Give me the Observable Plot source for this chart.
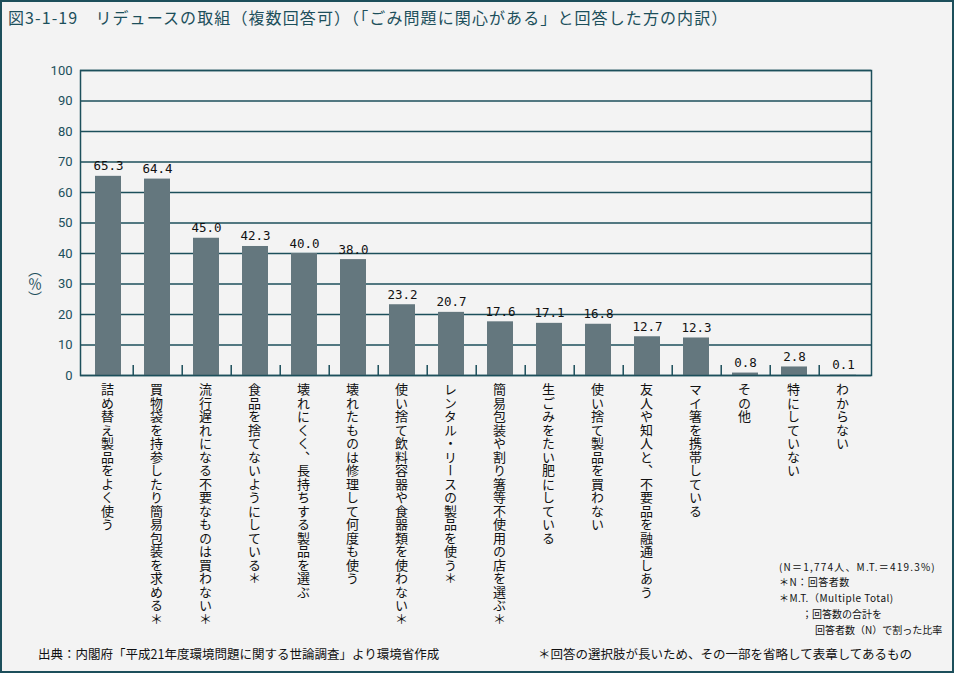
<!DOCTYPE html>
<html><head><meta charset="utf-8">
<script src="https://cdn.jsdelivr.net/npm/d3@7"></script>
<script src="https://cdn.jsdelivr.net/npm/@observablehq/plot@0.6"></script>
<style>
html,body{margin:0;padding:0;background:#f3f3f3;}
#wrap{position:relative;width:954px;height:673px;background:#f3f3f3;overflow:hidden;font-family:"Noto Sans CJK JP",sans-serif;}
#border{position:absolute;left:0;top:0;width:954px;height:673px;box-sizing:border-box;border:2px solid #1c4f5b;pointer-events:none;}
#chart{position:absolute;left:0;top:0;}
.t{position:absolute;white-space:nowrap;line-height:1;}
.n{font-size:10px;color:#111;}
</style></head>
<body>
<div id="wrap">
  <div id="chart"></div>
  <div class="t" id="title" style="left:8px;top:9px;font-size:16px;letter-spacing:1.1px;color:#1c4f5b;">図3-1-19　リデュースの取組（複数回答可）（「ごみ問題に関心がある」と回答した方の内訳）</div>
  <div class="t" id="unit" style="left:28px;top:263px;font-size:14px;color:#1c4f5b;writing-mode:vertical-rl;">（％）</div>
  <div class="t n" style="left:779px;top:562px;letter-spacing:1.2px;">(N＝1,774人、M.T.＝419.3%)</div>
  <div class="t n" style="left:779px;top:577px;letter-spacing:0.5px;">＊N：回答者数</div>
  <div class="t n" style="left:779px;top:593px;letter-spacing:0.5px;">＊M.T.（Multiple Total)</div>
  <div class="t n" style="left:802px;top:609px;">；回答数の合計を</div>
  <div class="t n" style="left:815px;top:625px;">回答者数（N）で割った比率</div>
  <div class="t" style="left:38px;top:648px;font-size:12.5px;color:#111;">出典：内閣府「平成21年度環境問題に関する世論調査」より環境省作成</div>
  <div class="t" style="left:538px;top:648px;font-size:12.5px;color:#111;">＊回答の選択肢が長いため、その一部を省略して表章してあるもの</div>
  <div id="border"></div>
</div>
<script>
const categories = [
  "詰め替え製品をよく使う",
  "買物袋を持参したり簡易包装を求める＊",
  "流行遅れになる不要なものは買わない＊",
  "食品を捨てないようにしている＊",
  "壊れにくく、長持ちする製品を選ぶ",
  "壊れたものは修理して何度も使う",
  "使い捨て飲料容器や食器類を使わない＊",
  "レンタル・リースの製品を使う＊",
  "簡易包装や割り箸等不使用の店を選ぶ＊",
  "生ごみをたい肥にしている",
  "使い捨て製品を買わない",
  "友人や知人と、不要品を融通しあう",
  "マイ箸を携帯している",
  "その他",
  "特にしていない",
  "わからない"
];
const values = [65.3, 64.4, 45.0, 42.3, 40.0, 38.0, 23.2, 20.7, 17.6, 17.1, 16.8, 12.7, 12.3, 0.8, 2.8, 0.1];
const yTicks = [0, 10, 20, 30, 40, 50, 60, 70, 80, 90, 100];

const teal = "#1c4f5b";
const barColor = "#64777e";
const data = categories.map((c, i) => ({cat: c, value: values[i]}));

const mLeft = 80, mRight = 83, mTop = 70, mBottom = 298;
const step = (954 - mLeft - mRight) / categories.length;

const chart = Plot.plot({
  width: 954,
  height: 673,
  marginLeft: mLeft,
  marginRight: mRight,
  marginTop: mTop,
  marginBottom: mBottom,
  style: {background: "transparent", color: teal, fontFamily: "Roboto, sans-serif"},
  x: {domain: categories, paddingInner: 0.47, paddingOuter: 0.235, axis: null},
  y: {domain: [0, 100], axis: null},
  marks: [
    Plot.ruleY(yTicks, {stroke: teal, strokeWidth: 1.5}),
    Plot.barY(data, {x: "cat", y: "value", fill: barColor}),
    Plot.ruleX(categories.slice(0, categories.length - 1), {x: d => d, y1: 0, y2: 3.3, dx: step / 2, stroke: teal, strokeWidth: 1.5}),
    Plot.frame({stroke: teal, strokeWidth: 1.5}),
    Plot.axisY({ticks: yTicks, tickSize: 0, tickPadding: 8, label: null, fontSize: 13, fill: teal}),
    Plot.text(data, {x: "cat", y: "value", text: d => d.value.toFixed(1), dy: -6, lineAnchor: "bottom", fill: "#111", fontSize: 12.5, fontFamily: "DejaVu Sans Mono, monospace"}),
    Plot.text(data, {x: "cat", y: 0, text: "cat", lineAnchor: "top", textAnchor: "start", dy: -2, dx: -1, fontSize: 13, fill: "#111", fontFamily: "Noto Sans CJK JP, sans-serif"})
  ]
});
// vertical (tategaki) writing for the category labels
const groups = chart.querySelectorAll('g[aria-label="text"]');
const xl = groups[groups.length - 1];
xl.querySelectorAll("text").forEach(t => {
  t.style.writingMode = "vertical-rl";
  t.style.letterSpacing = "0.5px";
  t.removeAttribute("dy");
  t.setAttribute("text-anchor", "start");
});
document.getElementById("chart").appendChild(chart);
</script>
</body></html>
